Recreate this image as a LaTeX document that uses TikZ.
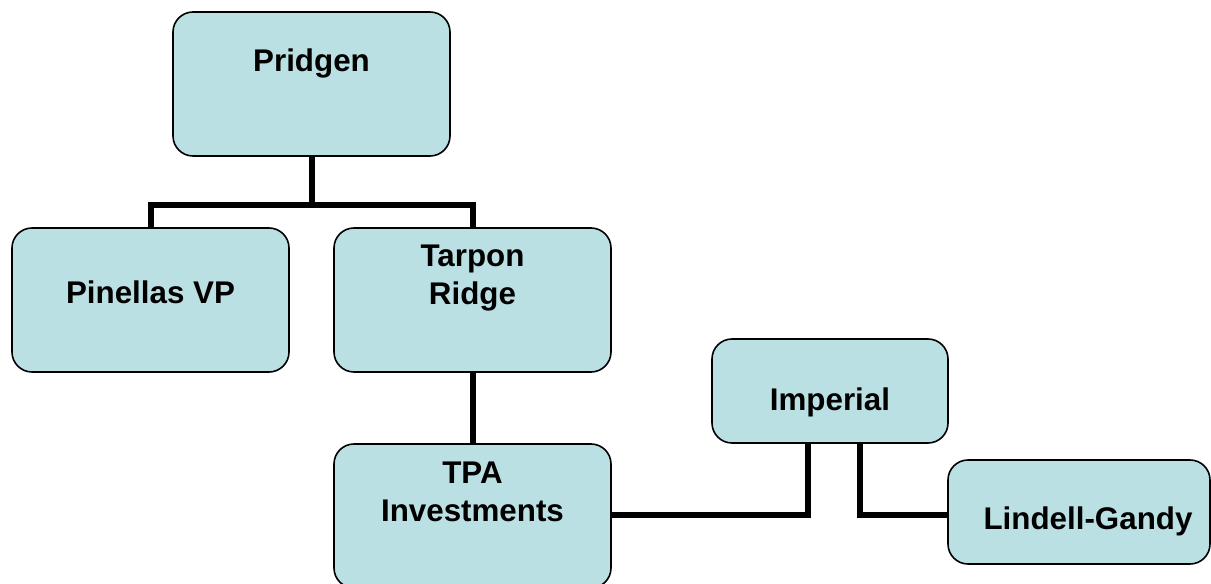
\documentclass[tikz,border=0pt]{standalone}
\usepackage{fontspec}
\setmainfont{Liberation Sans}
\definecolor{boxfill}{RGB}{187,224,227}
\begin{document}
\begin{tikzpicture}[x=0.75pt,y=-0.75pt,
  orgbox/.style={draw=black,line width=1.2pt,fill=boxfill,rounded corners=15pt,inner sep=0pt},
  lbl/.style={font=\fontsize{23.5}{28.5}\selectfont\bfseries,align=center,inner sep=0pt},
  conn/.style={line width=4.5pt}]
\clip (0,0) rectangle (1211,584);
\node[orgbox,minimum width=207.75pt,minimum height=108pt] (pridgen) at (311.5,84) {};
\node[orgbox,minimum width=207.75pt,minimum height=108pt] (pinellas) at (150.5,300) {};
\node[orgbox,minimum width=207.75pt,minimum height=108pt] (tarpon) at (472.5,300) {};
\node[orgbox,minimum width=207.75pt,minimum height=108pt] (tpa) at (472.5,516) {};
\node[orgbox,minimum width=177pt,minimum height=78pt] (imperial) at (830,391) {};
\node[orgbox,minimum width=196.5pt,minimum height=78pt] (lindell) at (1079,512) {};
\node[lbl] (tpridgen) at (311.5,63) {Pridgen};
\node[lbl] (tpinellas) at (150.5,292) {Pinellas VP};
\node[lbl] (ttarpon) at (472.5,278) {Tarpon\\Ridge};
\node[lbl] (ttpa) at (472.5,492) {TPA\\Investments};
\node[lbl] (timperial) at (830,402) {Imperial};
\node[lbl] (tlindell) at (1088,521) {Lindell-Gandy};
\coordinate (bus) at (311.5,205);
\coordinate (j1) at (808,515);
\coordinate (j2) at (860,515);
\draw[conn] (pridgen.south) -- (bus);
\draw[conn] (bus) -| (pinellas.north);
\draw[conn] (bus) -| (tarpon.north);
\draw[conn] (tarpon.south) -- (tpa.north);
\draw[conn] (imperial.south -| j1) -- (j1) -- (j1 -| tpa.east);
\draw[conn] (imperial.south -| j2) -- (j2) -- (j2 -| lindell.west);
\end{tikzpicture}
\end{document}
